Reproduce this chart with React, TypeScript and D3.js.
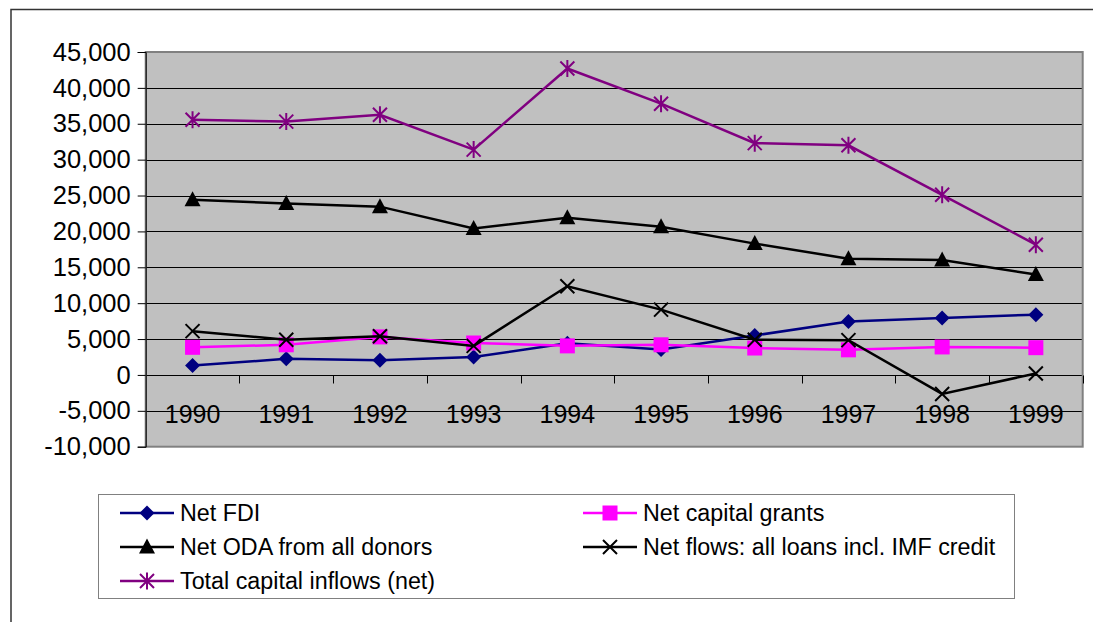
import React, { useEffect, useRef } from "react";
import * as d3 from "d3";

const years = ["1990", "1991", "1992", "1993", "1994", "1995", "1996", "1997", "1998", "1999"];
const yTicks = [-10000, -5000, 0, 5000, 10000, 15000, 20000, 25000, 30000, 35000, 40000, 45000];

const netFdi = [1300, 2250, 2050, 2500, 4400, 3550, 5500, 7450, 7950, 8400];
const netGrants = [3850, 4200, 5300, 4450, 4050, 4200, 3750, 3500, 3900, 3800];
const netOda = [24400, 23900, 23450, 20400, 21900, 20650, 18300, 16200, 16000, 14000];
const netLoans = [6100, 4900, 5400, 4050, 12350, 9100, 4900, 4850, -2650, 200];
const totalInflows = [35550, 35300, 36250, 31400, 42700, 37800, 32300, 32000, 25100, 18150];

const seriesNames = [
  "Net FDI",
  "Net capital grants",
  "Net ODA from all donors",
  "Net flows: all loans incl. IMF credit",
  "Total capital inflows (net)",
];
const seriesValues = [netFdi, netGrants, netOda, netLoans, totalInflows];
const seriesColors = ["#000080", "#FF00FF", "#000000", "#000000", "#800080"];
const seriesMarkers = ["diamond", "square", "triangle", "x", "star"];

const FONT = "Arial, 'Liberation Sans', sans-serif";

function drawMarker(g, type, color, x, y) {
  if (type === "diamond") {
    g.append("path")
      .attr("d", `M${x},${y - 7.5}L${x + 7.5},${y}L${x},${y + 7.5}L${x - 7.5},${y}Z`)
      .attr("fill", color);
  } else if (type === "square") {
    g.append("rect")
      .attr("x", x - 7.5).attr("y", y - 7.5)
      .attr("width", 15).attr("height", 15)
      .attr("fill", color);
  } else if (type === "triangle") {
    g.append("path")
      .attr("d", `M${x},${y - 8.5}L${x + 8},${y + 6.5}L${x - 8},${y + 6.5}Z`)
      .attr("fill", color);
  } else if (type === "x") {
    g.append("path")
      .attr("d", `M${x - 7},${y - 7}L${x + 7},${y + 7}M${x + 7},${y - 7}L${x - 7},${y + 7}`)
      .attr("stroke", color).attr("stroke-width", 2).attr("fill", "none");
  } else if (type === "star") {
    g.append("path")
      .attr(
        "d",
        `M${x - 7},${y - 7}L${x + 7},${y + 7}M${x + 7},${y - 7}L${x - 7},${y + 7}M${x},${y - 8.5}L${x},${y + 8.5}`
      )
      .attr("stroke", color).attr("stroke-width", 2).attr("fill", "none");
  }
}

const App = () => {
  const ref = useRef(null);

  useEffect(() => {
    const svg = d3.select(ref.current);
    svg.selectAll("*").remove();
    const left = 145.7, right = 1082.7, top = 52, bottom = 446.7;

    // outer frame
    svg.append("rect")
      .attr("x", 11).attr("y", 9.5)
      .attr("width", 1200).attr("height", 800)
      .attr("fill", "#fff").attr("stroke", "#333").attr("stroke-width", 1.5);

    const x = d3.scaleBand().domain(years).range([left, right]);
    const y = d3.scaleLinear().domain([-10000, 45000]).range([bottom, top]);

    // plot area
    svg.append("rect")
      .attr("x", left).attr("y", top)
      .attr("width", right - left).attr("height", bottom - top)
      .attr("fill", "#C0C0C0");

    // gridlines
    svg.append("g")
      .selectAll("line")
      .data(yTicks.filter((t) => t > -10000 && t < 45000))
      .enter()
      .append("line")
      .attr("x1", left).attr("x2", right)
      .attr("y1", (d) => Math.round(y(d)) + 0.5)
      .attr("y2", (d) => Math.round(y(d)) + 0.5)
      .attr("stroke", "#000").attr("stroke-width", 1);

    // plot border
    svg.append("rect")
      .attr("x", left).attr("y", top)
      .attr("width", right - left).attr("height", bottom - top)
      .attr("fill", "none").attr("stroke", "#808080").attr("stroke-width", 2);

    // y axis
    const yAxis = d3.axisLeft(y)
      .tickValues(yTicks)
      .tickSize(8)
      .tickPadding(6)
      .tickFormat((d) => d3.format(",")(d).replace("−", "-"));
    const ya = svg.append("g").attr("transform", `translate(${left},0)`).call(yAxis);
    ya.select(".domain").attr("stroke", "#000").attr("stroke-width", 1);
    ya.selectAll(".tick line").attr("stroke", "#000");
    ya.selectAll(".tick text")
      .attr("font-family", FONT).attr("font-size", 25.5).attr("fill", "#000")
      .attr("dx", "-1");

    // category axis crossing at 0
    const zeroY = Math.round(y(0)) + 0.5;
    const boundaries = years.map((d) => x(d)).concat([right]);
    svg.append("g")
      .selectAll("line")
      .data(boundaries.slice(1))
      .enter()
      .append("line")
      .attr("x1", (d) => Math.round(d) + 0.5).attr("x2", (d) => Math.round(d) + 0.5)
      .attr("y1", zeroY).attr("y2", zeroY + 8)
      .attr("stroke", "#000");

    svg.append("g")
      .selectAll("text")
      .data(years)
      .enter()
      .append("text")
      .attr("x", (d) => x(d) + x.bandwidth() / 2)
      .attr("y", zeroY + 47)
      .attr("text-anchor", "middle")
      .attr("font-family", FONT).attr("font-size", 25)
      .text((d) => d);

    // series
    const line = d3.line()
      .x((d, i) => x(years[i]) + x.bandwidth() / 2)
      .y((d) => y(d));

    seriesValues.forEach((vals, si) => {
      const g = svg.append("g");
      g.append("path")
        .datum(vals)
        .attr("d", line)
        .attr("fill", "none")
        .attr("stroke", seriesColors[si])
        .attr("stroke-width", 2.5);
      vals.forEach((v, i) => {
        drawMarker(g, seriesMarkers[si], seriesColors[si], x(years[i]) + x.bandwidth() / 2, y(v));
      });
    });

    // legend
    const lg = svg.append("g");
    lg.append("rect")
      .attr("x", 98.5).attr("y", 494.5)
      .attr("width", 916).attr("height", 104)
      .attr("fill", "#fff").attr("stroke", "#808080").attr("stroke-width", 1);
    const legendPos = [
      [120, 513],
      [583, 513],
      [120, 547],
      [583, 547],
      [120, 581],
    ];
    seriesNames.forEach((name, si) => {
      const [lx, ly] = legendPos[si];
      lg.append("line")
        .attr("x1", lx).attr("x2", lx + 54)
        .attr("y1", ly).attr("y2", ly)
        .attr("stroke", seriesColors[si]).attr("stroke-width", 2.5);
      drawMarker(lg, seriesMarkers[si], seriesColors[si], lx + 27, ly);
      lg.append("text")
        .attr("x", lx + 60).attr("y", ly + 8)
        .attr("font-family", FONT).attr("font-size", 23.3)
        .text(name);
    });
  }, []);

  return (
    <svg
      ref={ref}
      width="1093"
      height="622"
      style={{ position: "absolute", left: 0, top: 0, background: "#fff" }}
    ></svg>
  );
};

export default App;
